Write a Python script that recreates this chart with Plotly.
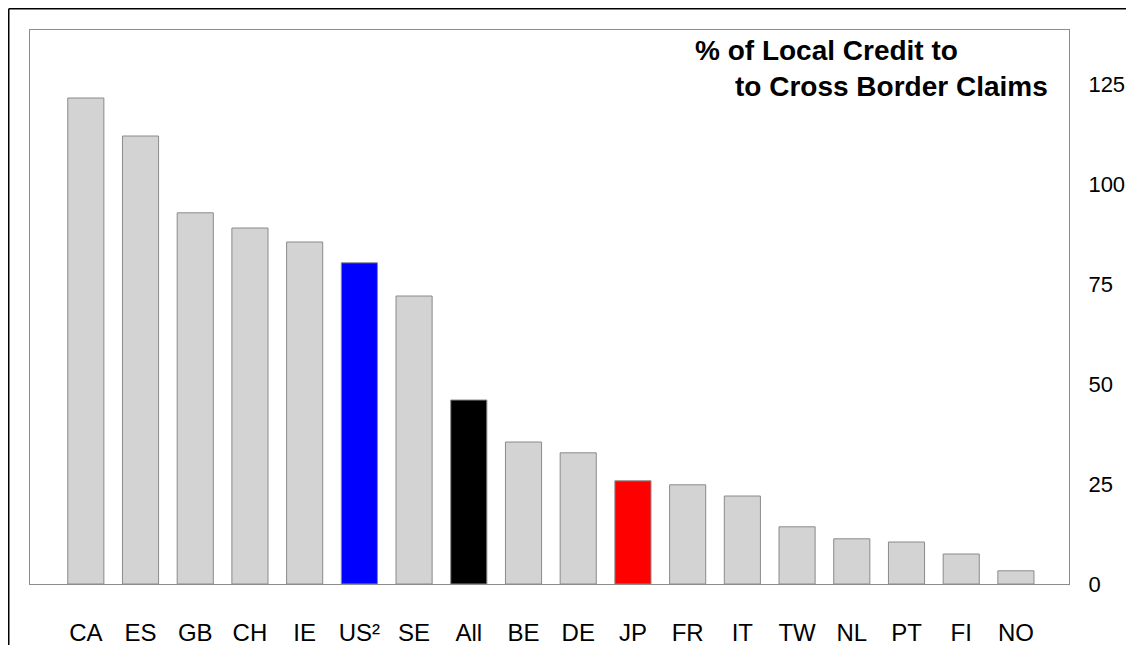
import plotly.graph_objects as go

categories = ["CA", "ES", "GB", "CH", "IE", "US²", "SE", "All", "BE", "DE",
              "JP", "FR", "IT", "TW", "NL", "PT", "FI", "NO"]
values = [121.5, 112.0, 92.8, 89.0, 85.5, 80.3, 72.0, 46.0, 35.5, 32.8,
          25.8, 24.8, 22.0, 14.3, 11.3, 10.5, 7.5, 3.3]
bar_colors = ["#d3d3d3"] * 5 + ["#0000ff", "#d3d3d3", "#000000", "#d3d3d3", "#d3d3d3",
              "#ff0000"] + ["#d3d3d3"] * 7
y_ticks = [0, 25, 50, 75, 100, 125]
title_line1 = "% of Local Credit to"
title_line2 = "to Cross Border Claims"

FONT = "Liberation Sans Narrow, Arial Narrow, Liberation Sans, Arial, sans-serif"

fig = go.Figure(go.Bar(
    x=categories, y=values,
    marker=dict(color=bar_colors, line=dict(color="#8a8a8a", width=1)),
    width=0.66,
))

# page has an 8px body margin; the figure starts at (8, 8)
W, H = 1118, 637
L, R, T, B = 22, 57, 22, 61
pw = W - L - R
ph = H - T - B

fig.update_layout(
    width=W, height=H,
    margin=dict(l=L, r=R, t=T, b=B, pad=0, autoexpand=False),
    paper_bgcolor="white", plot_bgcolor="white",
    showlegend=False,
    xaxis=dict(
        type="category", range=[-1.02, 17.97], automargin=False,
        showline=True, linecolor="#8c8c8c", linewidth=1, mirror=True,
        ticks="outside", ticklen=27, tickcolor="rgba(0,0,0,0)",
        tickfont=dict(family=FONT, size=24, color="black"),
        showgrid=False, zeroline=False, fixedrange=True,
    ),
    yaxis=dict(
        side="right", range=[0, 138.5], automargin=False,
        tickvals=y_ticks, ticktext=[str(v) for v in y_ticks],
        showline=True, linecolor="#8c8c8c", linewidth=1, mirror=True,
        ticks="outside", ticklen=14, tickcolor="rgba(0,0,0,0)",
        tickfont=dict(family=FONT, size=22, color="black"),
        showgrid=False, zeroline=False, fixedrange=True,
    ),
)

def px_x(px):
    return (px - L) / pw

def px_y(py):
    return (H - B - py) / ph

fig.add_annotation(text="<b>" + title_line1 + "</b>", xref="paper", yref="paper",
                   x=px_x(685), y=px_y(43), xanchor="left", yanchor="middle",
                   showarrow=False, font=dict(family="Liberation Sans, Arial", size=28, color="black"))
fig.add_annotation(text="<b>" + title_line2 + "</b>", xref="paper", yref="paper",
                   x=px_x(725), y=px_y(78), xanchor="left", yanchor="middle",
                   showarrow=False, font=dict(family="Liberation Sans, Arial", size=28, color="black"))

# outer frame of the figure (top and left edges visible)
fig.add_shape(type="line", xref="paper", yref="paper",
              x0=px_x(0.75), x1=px_x(W), y0=px_y(0.75), y1=px_y(0.75),
              line=dict(color="black", width=1.5))
fig.add_shape(type="line", xref="paper", yref="paper",
              x0=px_x(0.75), x1=px_x(0.75), y0=px_y(0.75), y1=px_y(H),
              line=dict(color="black", width=1.5))

fig.write_html("out.html")
